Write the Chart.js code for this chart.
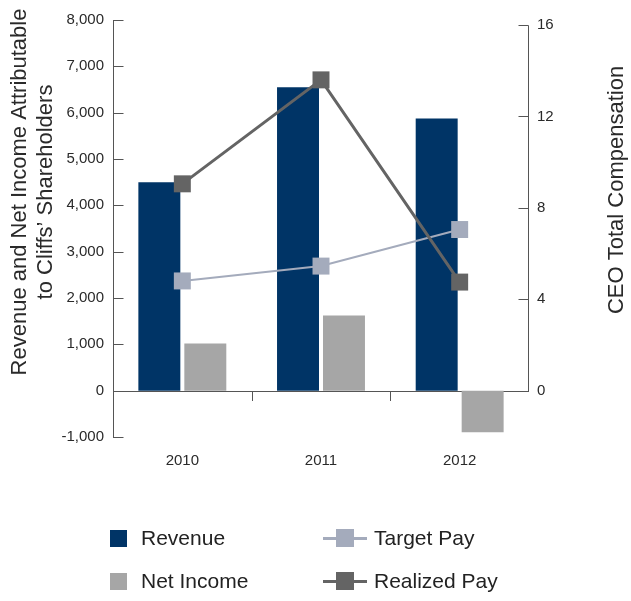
<!DOCTYPE html>
<html><head><meta charset="utf-8">
<script src="https://cdn.jsdelivr.net/npm/chart.js@4/dist/chart.umd.min.js"></script>
<style>
html,body{margin:0;padding:0;background:#fff;}
#wrap{position:relative;width:631px;height:601px;overflow:hidden;}
canvas{position:absolute;left:0;top:0;}
#legend{position:absolute;left:0;top:0;width:631px;height:601px;pointer-events:none;font-family:"Liberation Sans",Arial,Helvetica,sans-serif;font-size:21px;color:#222;}
.item{position:absolute;display:flex;align-items:center;height:26px;white-space:nowrap;}
.sw{width:17px;height:17px;margin-right:14px;}
.ln{position:relative;width:44px;height:18px;margin-right:7px;}
.ln .bar{position:absolute;left:0;right:0;top:7.5px;height:3px;}
.ln .sq{position:absolute;left:13px;top:0;width:18px;height:18px;}
</style></head><body>
<div id="wrap"><canvas id="c" width="631" height="601"></canvas><div id="legend"></div></div>
<script>
const years = ['2010', '2011', '2012'];
const revenue = [4500, 6550, 5875];
const netIncome = [1020, 1620, -900];
const targetPay = [4.8, 5.45, 7.05];
const realizedPay = [9.05, 13.6, 4.75];
const leftTicks = [-1000, 0, 1000, 2000, 3000, 4000, 5000, 6000, 7000, 8000];
const rightTicks = [0, 4, 8, 12, 16];
const leftTitle = ['Revenue and Net Income Attributable', 'to Cliffs\u2019 Shareholders'];
const rightTitle = 'CEO Total Compensation';

const FONT = '"Liberation Sans", Arial, Helvetica, sans-serif';
const AXIS = '#555';
const TXT = '#2a2a2a';

const deco = {
  id: 'deco',
  beforeDatasetsDraw(chart) {
    const {ctx, chartArea: a, scales} = chart;
    const y0 = Math.round(scales.y.getPixelForValue(0)) + 0.5;
    ctx.save();
    ctx.strokeStyle = AXIS; ctx.lineWidth = 1;
    ctx.beginPath(); ctx.moveTo(a.left, y0); ctx.lineTo(a.right, y0); ctx.stroke();
    ctx.restore();
  },
  afterDraw(chart) {
    const {ctx, chartArea: a, scales} = chart;
    ctx.save();
    ctx.strokeStyle = AXIS; ctx.lineWidth = 1;
    // left inward ticks
    const lx = Math.round(a.left) + 0.5;
    scales.y.ticks.forEach(t => {
      const p = Math.round(scales.y.getPixelForValue(t.value)) + 0.5;
      ctx.beginPath(); ctx.moveTo(lx, p); ctx.lineTo(lx + 10, p); ctx.stroke();
    });
    // right axis line from first to last tick + inward ticks
    const rx = Math.round(a.right) - 0.5;
    const rt = scales.y2.ticks;
    const top = scales.y2.getPixelForValue(rt[rt.length - 1].value);
    const bot = scales.y2.getPixelForValue(rt[0].value);
    ctx.beginPath(); ctx.moveTo(rx, Math.round(top) + 0.5); ctx.lineTo(rx, Math.round(bot) + 0.5); ctx.stroke();
    rt.forEach(t => {
      const p = Math.round(scales.y2.getPixelForValue(t.value)) + 0.5;
      ctx.beginPath(); ctx.moveTo(rx - 10, p); ctx.lineTo(rx, p); ctx.stroke();
    });
    // category separators below the zero line
    const y0 = Math.round(scales.y.getPixelForValue(0));
    for (let i = 0; i < years.length - 1; i++) {
      const x = Math.round((scales.x.getPixelForValue(i) + scales.x.getPixelForValue(i + 1)) / 2) + 0.5;
      ctx.beginPath(); ctx.moveTo(x, y0); ctx.lineTo(x, y0 + 10); ctx.stroke();
    }
    // titles
    ctx.fillStyle = TXT;
    ctx.font = '22px ' + FONT;
    ctx.textAlign = 'center'; ctx.textBaseline = 'middle';
    [[20, leftTitle[0]], [46, leftTitle[1]]].forEach(([x, s]) => {
      ctx.save(); ctx.translate(x, 192); ctx.rotate(-Math.PI / 2); ctx.fillText(s, 0, 0); ctx.restore();
    });
    ctx.save(); ctx.translate(617, 190); ctx.rotate(-Math.PI / 2); ctx.fillText(rightTitle, 0, 0); ctx.restore();
    ctx.restore();
  }
};

const chart = new Chart(document.getElementById('c'), {
  data: {
    labels: years,
    datasets: [
      {type: 'line', label: 'Realized Pay', data: realizedPay, yAxisID: 'y2', borderColor: '#646464', backgroundColor: '#646464',
       borderWidth: 3, pointStyle: 'rect', pointRadius: 12, pointBorderWidth: 0, tension: 0, order: 0},
      {type: 'line', label: 'Target Pay', data: targetPay, yAxisID: 'y2', borderColor: '#A4ABBC', backgroundColor: '#A4ABBC',
       borderWidth: 2, pointStyle: 'rect', pointRadius: 12, pointBorderWidth: 0, tension: 0, order: 1},
      {type: 'bar', label: 'Revenue', data: revenue, yAxisID: 'y', backgroundColor: '#003466',
       categoryPercentage: 0.663, barPercentage: 0.913, order: 2},
      {type: 'bar', label: 'Net Income', data: netIncome, yAxisID: 'y', backgroundColor: '#A6A6A6',
       categoryPercentage: 0.663, barPercentage: 0.913, order: 2}
    ]
  },
  options: {
    responsive: false, animation: false, events: [], locale: 'en-US',
    layout: {padding: {top: 20, bottom: 0, left: 0, right: 0}},
    plugins: {legend: {display: false}, tooltip: {enabled: false}},
    scales: {
      x: {
        grid: {display: false, drawTicks: false}, border: {display: false},
        ticks: {font: {size: 15, family: FONT}, color: TXT, padding: 15},
        afterFit(s) { s.height = 164; }
      },
      y: {
        position: 'left', min: -1000, max: 8000,
        afterBuildTicks(s) { s.ticks = leftTicks.map(v => ({value: v})); },
        ticks: {font: {size: 15, family: FONT}, color: TXT, padding: 9},
        grid: {display: false, drawTicks: false}, border: {display: true, color: AXIS, width: 1},
        afterFit(s) { s.width = 113; }
      },
      y2: {
        position: 'right', min: -2.03, max: 16.22,
        afterBuildTicks(s) { s.ticks = rightTicks.map(v => ({value: v})); },
        ticks: {font: {size: 15, family: FONT}, color: TXT, padding: 8},
        grid: {display: false, drawTicks: false}, border: {display: false},
        afterFit(s) { s.width = 102; }
      }
    }
  },
  plugins: [deco]
});

// HTML legend built from datasets
const legendPos = {
  'Revenue': [110, 538], 'Net Income': [110, 581],
  'Target Pay': [323, 538], 'Realized Pay': [323, 581]
};
const lg = document.getElementById('legend');
chart.data.datasets.forEach(ds => {
  const [x, y] = legendPos[ds.label];
  const it = document.createElement('div');
  it.className = 'item';
  it.style.left = x + 'px'; it.style.top = (y - 13) + 'px';
  let icon;
  if (ds.type === 'bar') {
    icon = '<div class="sw" style="background:' + ds.backgroundColor + '"></div>';
  } else {
    icon = '<div class="ln"><div class="bar" style="background:' + ds.borderColor + '"></div><div class="sq" style="background:' + ds.borderColor + '"></div></div>';
  }
  it.innerHTML = icon + '<span>' + ds.label + '</span>';
  lg.appendChild(it);
});
</script>
</body></html>
